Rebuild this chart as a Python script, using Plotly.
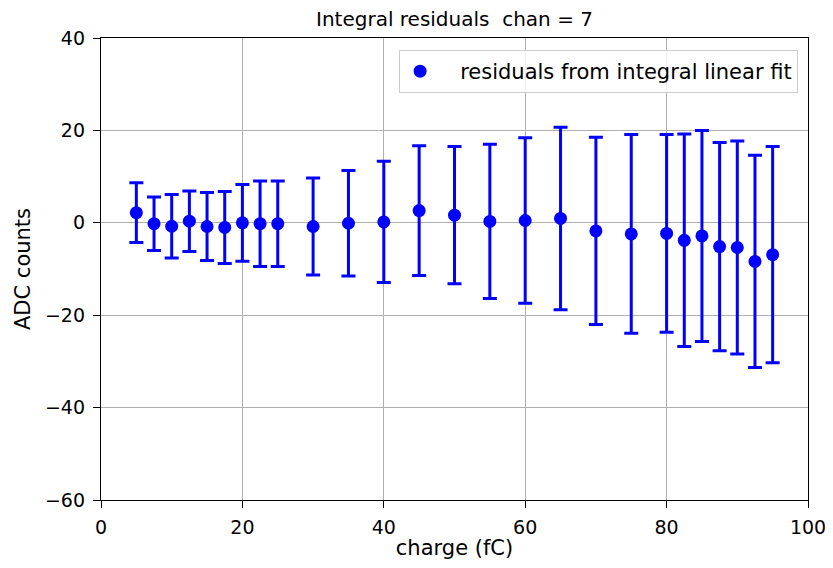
import plotly.graph_objects as go

charge = [5, 7.5, 10, 12.5, 15, 17.5, 20, 22.5, 25, 30, 35, 40, 45, 50, 55, 60, 65, 70,
          75, 80, 82.5, 85, 87.5, 90, 92.5, 95]
residuals = [2.2, -0.2, -0.75, 0.35, -0.8, -1.0, 0.0, -0.2, -0.2, -0.8, -0.1, 0.2, 2.65, 1.65,
             0.3, 0.5, 0.95, -1.75, -2.4, -2.3, -3.8, -2.85, -5.15, -5.35, -8.35, -6.9]
errors = [6.45, 5.8, 6.85, 6.55, 7.35, 7.8, 8.3, 9.25, 9.25, 10.5, 11.4, 13.1, 14.05, 14.85,
          16.7, 17.9, 19.75, 20.25, 21.5, 21.4, 23.0, 22.85, 22.55, 23.05, 22.95, 23.4]

x_ticks = [0, 20, 40, 60, 80, 100]
y_ticks = [-60, -40, -20, 0, 20, 40]
y_tick_text = ["\u221260", "\u221240", "\u221220", "0", "20", "40"]

fig = go.Figure()
fig.add_trace(go.Scatter(
    x=charge, y=residuals, mode="markers",
    name="\u00a0\u00a0\u00a0residuals from integral linear fit",
    marker=dict(color="#0000ff", size=13),
    error_y=dict(type="data", array=errors, visible=True, color="#0000ff",
                 thickness=3, width=7),
))

font = "DejaVu Sans, sans-serif"
axis_common = dict(
    showline=True, linecolor="black", linewidth=1.3, mirror=True,
    ticks="outside", ticklen=7, tickcolor="black", tickwidth=1.2,
    showgrid=True, gridcolor="#b0b0b0", gridwidth=1, zeroline=False,
    tickfont=dict(family=font, size=19, color="black"),
    ticklabeloverflow="allow", automargin=False,
)
fig.update_layout(
    width=817, height=552,
    margin=dict(l=93, r=17, t=30, b=60),
    paper_bgcolor="white", plot_bgcolor="white",
    title=dict(text="Integral residuals  chan = 7", x=0.5, xanchor="center",
               xref="paper", y=1 - 11 / 552, yanchor="middle",
               font=dict(family=font, size=20, color="black")),
    xaxis=dict(range=[0, 100], tickvals=x_ticks, ticklabelstandoff=3,
               title=dict(text="charge (fC)", font=dict(family=font, size=21, color="black"), standoff=8),
               **axis_common),
    yaxis=dict(range=[-60, 40], tickvals=y_ticks, ticktext=y_tick_text, ticklabelstandoff=4,
               title=dict(text="ADC counts", font=dict(family=font, size=21, color="black"), standoff=8),
               **axis_common),
    legend=dict(x=0.986, y=0.974, xanchor="right", yanchor="top",
                bgcolor="rgba(255,255,255,0.8)", bordercolor="#cccccc", borderwidth=1,
                font=dict(family=font, size=21, color="black")),
    showlegend=True,
)
fig.write_html("out.html", config={"displayModeBar": False})
